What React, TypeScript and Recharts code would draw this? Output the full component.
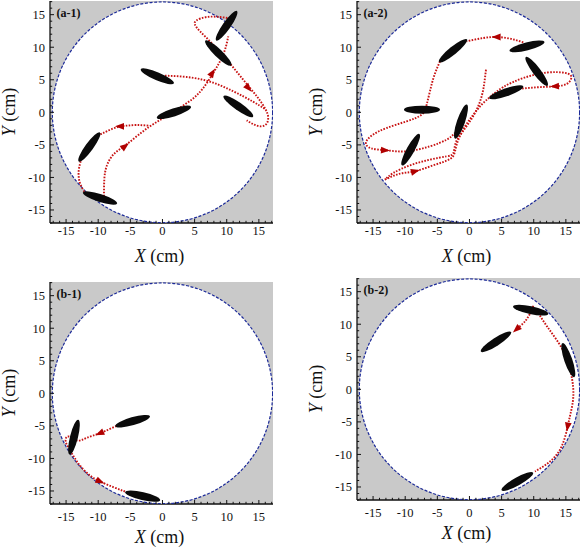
import React from 'react';
import { ComposedChart, XAxis, YAxis, Scatter, CartesianGrid } from 'recharts';

// ---------- axes ----------
const X_DOMAIN: [number, number] = [-17.5, 17.2];
const Y_DOMAIN: [number, number] = [-17, 17.1];
const AXIS_TICKS = [-17, -16, -15, -14, -13, -12, -11, -10, -9, -8, -7, -6, -5, -4, -3, -2, -1, 0, 1, 2, 3, 4, 5, 6, 7, 8, 9, 10, 11, 12, 13, 14, 15, 16, 17];
const LABELED_TICKS = [-15, -10, -5, 0, 5, 10, 15];
const TANK_RADIUS = 17;
const TANK_CENTER = [{ x: 0, y: 0 }];

// ---------- (a-1) ----------
const a1Fish = [
  { x: 9.98, y: 13.3, angle: 55 },
  { x: 8.69, y: 9.11, angle: -44 },
  { x: -0.8, y: 5.53, angle: -23 },
  { x: 11.8, y: 0.92, angle: -35 },
  { x: 1.79, y: 0.0, angle: 18 },
  { x: -11.38, y: -5.32, angle: 54 },
  { x: -9.72, y: -13.16, angle: -18 },
];
const a1PathUp = [
  { x: -9.1, y: -12.9 }, { x: -9.05, y: -10.34 }, { x: -8.69, y: -8.29 }, { x: -7.65, y: -6.5 },
  { x: -5.99, y: -5.22 }, { x: -4.02, y: -3.69 }, { x: -1.94, y: -2.15 }, { x: 0.13, y: -0.87 },
  { x: 2.2, y: 0.41 }, { x: 4.54, y: 1.95 }, { x: 6.35, y: 3.74 }, { x: 7.91, y: 6.04 },
  { x: 8.95, y: 7.83 }, { x: 9.73, y: 9.63 }, { x: 10.24, y: 11.67 },
];
const a1PathLoop = [
  { x: 11.02, y: 14.34 }, { x: 8.95, y: 14.64 }, { x: 6.87, y: 14.64 }, { x: 5.32, y: 14.13 },
  { x: 5.06, y: 13.47 }, { x: 5.84, y: 12.44 }, { x: 7.39, y: 10.91 }, { x: 8.95, y: 9.22 },
  { x: 10.5, y: 7.48 }, { x: 12.06, y: 5.63 }, { x: 13.62, y: 3.74 }, { x: 15.0, y: 2.05 },
  { x: 16.05, y: 0.45 }, { x: 16.45, y: -0.75 }, { x: 16.2, y: -1.75 }, { x: 15.4, y: -2.15 },
  { x: 14.3, y: -1.9 }, { x: 13.1, y: -1.23 },
];
const a1PathArc = [
  { x: 0.39, y: 5.63 }, { x: 3.76, y: 5.43 }, { x: 7.39, y: 4.71 }, { x: 11.02, y: 3.23 },
  { x: 14.0, y: 1.69 }, { x: 16.05, y: 0.45 },
];
const a1PathLeft = [
  { x: -2.2, y: -2.05 }, { x: -4.02, y: -1.95 }, { x: -5.58, y: -2.05 }, { x: -7.13, y: -2.3 },
  { x: -8.69, y: -2.92 }, { x: -9.73, y: -3.43 },
];
const a1PathDown = [
  { x: -12.73, y: -7.53 }, { x: -13.04, y: -9.06 }, { x: -12.84, y: -10.86 }, { x: -12.06, y: -12.29 },
  { x: -11.7, y: -12.65 },
];
const a1Arrows = [
  { x: -6.61, y: -2.15, angle: 180 },
  { x: -5.84, y: -5.22, angle: 38 },
  { x: 7.75, y: 6.04, angle: 58 },
  { x: 13.36, y: 3.74, angle: -49 },
];

// ---------- (a-2) ----------
const a2Fish = [
  { x: -2.56, y: 9.47, angle: 39 },
  { x: 8.95, y: 10.14, angle: 14 },
  { x: 10.46, y: 6.3, angle: -53 },
  { x: 5.73, y: 3.07, angle: 19 },
  { x: -7.39, y: 0.41, angle: 0 },
  { x: -1.32, y: -1.43, angle: 71 },
  { x: -9.15, y: -5.73, angle: 61 },
];
const a2PathTop = [
  { x: 8.38, y: 10.75 }, { x: 6.31, y: 11.32 }, { x: 4.23, y: 11.57 }, { x: 2.16, y: 11.42 }, { x: -0.44, y: 10.91 },
];
const a2PathLeftLoop = [
  { x: -4.59, y: 7.83 }, { x: -5.52, y: 5.53 }, { x: -6.15, y: 3.23 }, { x: -6.66, y: 1.18 },
  { x: -7.44, y: -0.36 }, { x: -9.77, y: -1.38 }, { x: -12.89, y: -2.41 }, { x: -15.0, y: -3.43 },
  { x: -16.1, y: -4.61 }, { x: -15.3, y: -5.53 }, { x: -12.89, y: -5.84 }, { x: -9.77, y: -5.99 },
  { x: -6.15, y: -5.22 }, { x: -3.55, y: -4.2 }, { x: -2.25, y: -3.17 },
];
const a2PathDown = [
  { x: 2.57, y: 6.55 }, { x: 2.31, y: 4.51 }, { x: 1.9, y: 2.46 }, { x: 1.12, y: 0.41 },
  { x: 0.08, y: -1.38 }, { x: -1.21, y: -3.17 }, { x: -2.15, y: -4.71 }, { x: -2.51, y: -6.25 },
  { x: -3.55, y: -6.76 }, { x: -6.15, y: -7.27 }, { x: -9.26, y: -8.14 }, { x: -11.85, y: -9.32 },
  { x: -13.15, y: -10.34 },
];
const a2PathUp = [
  { x: -13.15, y: -10.34 }, { x: -10.81, y: -9.42 }, { x: -8.48, y: -9.06 }, { x: -5.62, y: -8.14 },
  { x: -3.03, y: -7.17 }, { x: -2.25, y: -5.99 }, { x: -1.73, y: -4.2 }, { x: -0.69, y: -2.15 },
  { x: 0.6, y: -0.36 }, { x: 1.9, y: 1.18 }, { x: 3.19, y: 2.36 },
];
const a2PathRightLoop = [
  { x: 3.19, y: 2.36 }, { x: 5.27, y: 3.89 }, { x: 8.38, y: 5.27 }, { x: 12.01, y: 6.1 },
  { x: 14.9, y: 6.05 }, { x: 15.85, y: 5.4 }, { x: 15.2, y: 4.4 }, { x: 13.31, y: 3.99 },
  { x: 10.46, y: 3.84 }, { x: 7.34, y: 3.58 },
];
const a2Arrows = [
  { x: 4.23, y: 11.57, angle: 180 },
  { x: -13.15, y: -5.84, angle: -3 },
  { x: -8.48, y: -9.06, angle: 15 },
  { x: 13.31, y: 3.99, angle: 183 },
];

// ---------- (b-1) ----------
const b1Fish = [
  { x: -4.64, y: -4.28, angle: 16 },
  { x: -13.77, y: -6.73, angle: 76 },
  { x: -3.09, y: -15.8, angle: -13 },
];
const b1PathTurn = [
  { x: -7.13, y: -5.0 }, { x: -9.73, y: -6.12 }, { x: -11.8, y: -6.84 }, { x: -13.25, y: -7.25 },
  { x: -14.65, y: -6.63 }, { x: -15.07, y: -7.35 }, { x: -14.65, y: -8.27 }, { x: -14.13, y: -9.19 },
];
const b1PathWall = [
  { x: -14.13, y: -9.19 }, { x: -12.84, y: -11.09 }, { x: -11.28, y: -12.62 }, { x: -9.73, y: -13.54 },
  { x: -7.65, y: -14.41 }, { x: -5.84, y: -15.08 },
];
const b1Arrows = [
  { x: -9.73, y: -6.12, angle: 204 },
  { x: -9.73, y: -13.54, angle: -25 },
];

// ---------- (b-2) ----------
const b2Fish = [
  { x: 9.52, y: 12.16, angle: -12 },
  { x: 4.13, y: 7.3, angle: 33 },
  { x: 15.38, y: 4.48, angle: -71 },
  { x: 7.45, y: -14.16, angle: 29 },
];
const b2PathTurn = [
  { x: 9.94, y: 12.83 }, { x: 9.52, y: 11.8 }, { x: 8.9, y: 10.78 }, { x: 8.38, y: 10.16 }, { x: 7.34, y: 9.24 },
];
const b2PathWall = [
  { x: 10.72, y: 11.7 }, { x: 12.01, y: 9.75 }, { x: 13.56, y: 7.6 }, { x: 15.02, y: 5.04 },
  { x: 15.9, y: 1.97 }, { x: 16.16, y: -1.1 }, { x: 15.74, y: -3.66 }, { x: 15.28, y: -5.71 },
  { x: 14.34, y: -8.78 }, { x: 12.53, y: -11.09 }, { x: 10.19, y: -12.62 },
];
const b2Arrows = [
  { x: 7.34, y: 9.24, angle: 222 },
  { x: 15.28, y: -5.71, angle: -100 },
];

// ---------- styles ----------
const FONT = "'Liberation Serif', 'Times New Roman', serif";
const GRAY = '#c9c9c9';
const RED = '#c81414';
const ARROW_RED = '#b00000';
const BLUE = '#1c2a99';
const PLOT_W = 223;
const PLOT_H = 222;
const AXIS_W = 50;
const AXIS_H = 50;
const PAD = 6;
const PX_X = PLOT_W / (X_DOMAIN[1] - X_DOMAIN[0]);
const PX_Y = PLOT_H / (Y_DOMAIN[1] - Y_DOMAIN[0]);
const FISH_RX = 18;
const FISH_RY = 4;

const txt = { fontFamily: FONT };
const frameLine = { stroke: '#111', strokeWidth: 1.3 };

const tickLen = (v: number) => (v % 5 === 0 ? 4 : 2.2);

const BottomTick = (props: any) => {
  const { x, y, payload, labelDy } = props;
  const v = payload.value;
  return (
    <g>
      <line x1={x} x2={x} y1={y} y2={y - tickLen(v)} stroke="#111" strokeWidth={1} />
      {LABELED_TICKS.includes(v) && (
        <text x={x} y={y + labelDy} textAnchor="middle" style={{ ...txt, fontSize: 12.5 }} fill="#111">
          {String(v)}
        </text>
      )}
    </g>
  );
};
const TopTick = (props: any) => {
  const { x, y, payload } = props;
  return <line x1={x} x2={x} y1={y} y2={y + tickLen(payload.value)} stroke="#111" strokeWidth={1} />;
};
const LeftTick = (props: any) => {
  const { x, y, payload } = props;
  const v = payload.value;
  return (
    <g>
      <line x1={x} x2={x + tickLen(v)} y1={y} y2={y} stroke="#111" strokeWidth={1} />
      {LABELED_TICKS.includes(v) && (
        <text x={x - 5} y={y + 4.3} textAnchor="end" style={{ ...txt, fontSize: 12.5 }} fill="#111">
          {String(v)}
        </text>
      )}
    </g>
  );
};
const RightTick = (props: any) => {
  const { x, y, payload } = props;
  return <line x1={x} x2={x - tickLen(payload.value)} y1={y} y2={y} stroke="#111" strokeWidth={1} />;
};

const TankShape = (props: any) => {
  const { cx, cy } = props;
  return (
    <ellipse
      cx={cx}
      cy={cy}
      rx={TANK_RADIUS * PX_X + 0.9}
      ry={TANK_RADIUS * PX_Y - 0.3}
      fill="#fff"
      stroke={BLUE}
      strokeWidth={1.2}
      strokeDasharray="3 1.6"
    />
  );
};
const FishShape = (props: any) => {
  const { cx, cy, payload } = props;
  return (
    <g transform={`translate(${cx},${cy}) rotate(${-payload.angle})`}>
      <ellipse rx={FISH_RX} ry={FISH_RY} fill="#0a0a0a" />
    </g>
  );
};
const ArrowShape = (props: any) => {
  const { cx, cy, payload } = props;
  return (
    <polygon
      points="5,0 -4,-3.4 -4,3.4"
      fill={ARROW_RED}
      transform={`translate(${cx},${cy}) rotate(${-payload.angle})`}
    />
  );
};
const NoPoint = () => <g />;

const trajLine = { stroke: RED, strokeWidth: 1.9, strokeDasharray: '1.6 1.4' };

type PanelCfg = {
  name: string;
  left: number;
  top: number;
  labelDy: number;
  fish: { x: number; y: number; angle: number }[];
  paths: { x: number; y: number }[][];
  arrows: { x: number; y: number; angle: number }[];
};

const panels: PanelCfg[] = [
  { name: '(a-1)', left: 50, top: 1.4, labelDy: 12, fish: a1Fish, paths: [a1PathUp, a1PathLoop, a1PathArc, a1PathLeft, a1PathDown], arrows: a1Arrows },
  { name: '(a-2)', left: 357, top: 1.4, labelDy: 12, fish: a2Fish, paths: [a2PathTop, a2PathLeftLoop, a2PathDown, a2PathUp, a2PathRightLoop], arrows: a2Arrows },
  { name: '(b-1)', left: 50, top: 281.5, labelDy: 17, fish: b1Fish, paths: [b1PathTurn, b1PathWall], arrows: b1Arrows },
  { name: '(b-2)', left: 357, top: 278.2, labelDy: 17, fish: b2Fish, paths: [b2PathTurn, b2PathWall], arrows: b2Arrows },
];

const XTitle = (props: any) => {
  const { x, y, width } = props.viewBox;
  return (
    <text x={x + width / 2 - 2} y={y + 39} textAnchor="middle" style={{ ...txt, fontSize: 18 }} fill="#111">
      <tspan fontStyle="italic">X</tspan>
      <tspan> (cm)</tspan>
    </text>
  );
};
const YTitle = (props: any) => {
  const { x, y, width, height } = props.viewBox;
  const name = props.panelName;
  const cx = x + width - 41;
  const cy = y + height / 2;
  return (
    <g>
      <text
        x={cx}
        y={cy}
        transform={`rotate(-90 ${cx} ${cy})`}
        textAnchor="middle"
        dominantBaseline="central"
        style={{ ...txt, fontSize: 18 }}
        fill="#111"
      >
        <tspan fontStyle="italic">Y</tspan>
        <tspan> (cm)</tspan>
      </text>
      <text x={x + width + 6.5} y={y + 16} style={{ ...txt, fontSize: 12, fontWeight: 'bold' }} fill="#111">
        {name}
      </text>
    </g>
  );
};

function Panel({ cfg }: { cfg: PanelCfg }) {
  const width = AXIS_W + PLOT_W + PAD;
  const height = PAD + PLOT_H + AXIS_H;
  return (
    <div style={{ position: 'absolute', left: cfg.left - AXIS_W, top: cfg.top - PAD }}>
      <ComposedChart width={width} height={height} margin={{ top: PAD, right: PAD, bottom: 0, left: 0 }}>
        <CartesianGrid horizontal={false} vertical={false} fill={GRAY} stroke="none" />
        <XAxis
          dataKey="x"
          type="number"
          domain={X_DOMAIN}
          ticks={AXIS_TICKS}
          interval={0}
          allowDataOverflow
          height={AXIS_H}
          tickSize={0}
          tickMargin={0}
          tickLine={false}
          axisLine={frameLine}
          tick={(p: any) => <BottomTick {...p} labelDy={cfg.labelDy} />}
          label={(p: any) => <XTitle {...p} />}
        />
        <XAxis
          xAxisId="top"
          orientation="top"
          dataKey="x"
          type="number"
          domain={X_DOMAIN}
          ticks={AXIS_TICKS}
          interval={0}
          allowDataOverflow
          height={0}
          tickSize={0}
          tickMargin={0}
          tickLine={false}
          axisLine={frameLine}
          tick={(p: any) => <TopTick {...p} />}
        />
        <YAxis
          dataKey="y"
          type="number"
          domain={Y_DOMAIN}
          ticks={AXIS_TICKS}
          interval={0}
          allowDataOverflow
          width={AXIS_W}
          tickSize={0}
          tickMargin={0}
          tickLine={false}
          axisLine={frameLine}
          tick={(p: any) => <LeftTick {...p} />}
          label={(p: any) => <YTitle {...p} panelName={cfg.name} />}
        />
        <YAxis
          yAxisId="right"
          orientation="right"
          dataKey="y"
          type="number"
          domain={Y_DOMAIN}
          ticks={AXIS_TICKS}
          interval={0}
          allowDataOverflow
          width={0}
          tickSize={0}
          tickMargin={0}
          tickLine={false}
          axisLine={frameLine}
          tick={(p: any) => <RightTick {...p} />}
        />
        <Scatter data={TANK_CENTER} shape={(p: any) => <TankShape {...p} />} isAnimationActive={false} />
        {cfg.paths.map((path, i) => (
          <Scatter
            key={`path-${i}`}
            data={path}
            line={trajLine}
            lineJointType="natural"
            shape={() => <NoPoint />}
            isAnimationActive={false}
          />
        ))}
        <Scatter data={cfg.fish} shape={(p: any) => <FishShape {...p} />} isAnimationActive={false} />
        <Scatter data={cfg.arrows} shape={(p: any) => <ArrowShape {...p} />} isAnimationActive={false} />
      </ComposedChart>
    </div>
  );
}

export default function App() {
  return (
    <div
      style={{
        position: 'absolute',
        left: 0,
        top: 0,
        width: 581,
        height: 547,
        overflow: 'hidden',
        background: '#fff',
      }}
    >
      {panels.map((p) => (
        <Panel key={p.name} cfg={p} />
      ))}
    </div>
  );
}
